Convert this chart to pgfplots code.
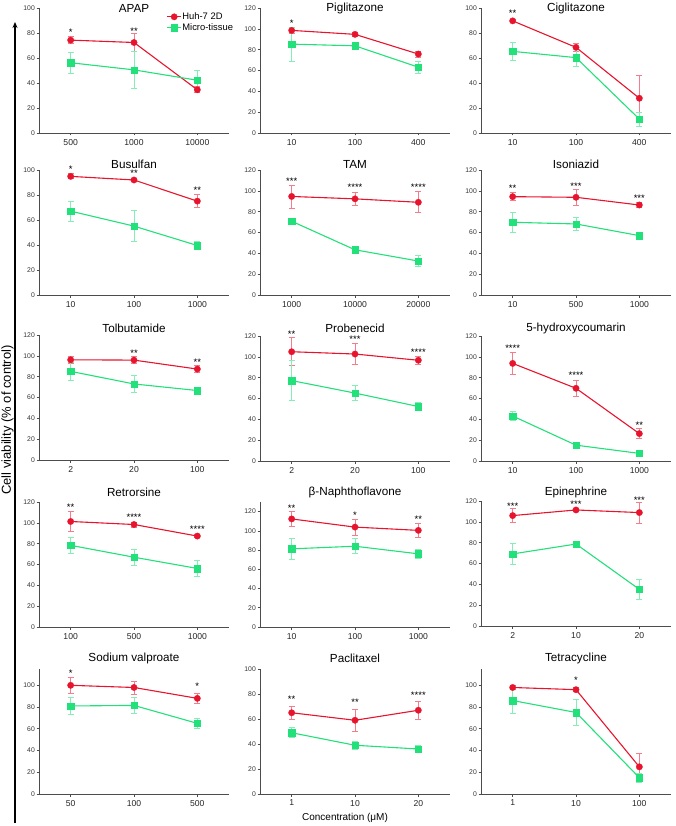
\documentclass[border=0pt]{standalone}
\usepackage{pgfplots}
\pgfplotsset{compat=1.18}
\usepackage{fontspec}
\setmainfont{Liberation Sans}
\usetikzlibrary{arrows.meta}
\definecolor{hured}{HTML}{E8142D}
\definecolor{mtgreen}{HTML}{22E07A}

\pgfplotsset{
  panel/.style={
    scale only axis, width=190pt, height=125pt,
    anchor=south west, clip=false,
    axis lines=left, axis line style={black!70, line width=0.6pt, -},
    xmin=-0.5, xmax=2.5, ymin=0, ymax=100,
    xtick={0,1,2}, ytick={0,20,...,120},
    tick align=outside, major tick length=2.5pt,
    tick style={black!70, line width=0.6pt},
    yticklabel style={font=\fontsize{6.8}{7}\selectfont, text=black!80, inner sep=1.5pt},
    xticklabel style={font=\fontsize{8.6}{9}\selectfont, text=black!85},
    every axis title/.style={at={(0.5,1)}, anchor=center, font=\fontsize{11.7}{13}\selectfont},
    /pgf/number format/assume math mode=true,
  },
  hu/.style={color=hured, line width=1.1pt, mark=*, mark size=3.2pt,
    mark options={solid, line width=0.3pt},
    error bars/.cd, y dir=both, y explicit,
    error bar style={hured!55!white, line width=0.8pt},
    error mark options={rotate=90, mark size=3pt, hured!55!white, line width=0.8pt}},
  mt/.style={color=mtgreen, line width=1.1pt, mark=square*, mark size=3.2pt,
    mark options={solid, line width=0.3pt},
    error bars/.cd, y dir=both, y explicit,
    error bar style={mtgreen!55!white, line width=0.8pt},
    error mark options={rotate=90, mark size=3pt, mtgreen!55!white, line width=0.8pt}},
  stars/.style={draw=none, mark=none, nodes near coords, point meta=explicit symbolic,
    nodes near coords style={font=\fontsize{9.5}{9.5}\selectfont, anchor=center, yshift=-1.7pt, black, inner sep=0pt}},
}

\begin{document}
\begin{tikzpicture}
\useasboundingbox (0pt,0pt) rectangle (676pt,-826pt);

% overall axis arrow and labels
\draw[line width=1.4pt, -{Stealth[length=6pt,width=5pt]}] (15pt,-823pt) -- (15pt,-22pt);
\node[rotate=90, font=\fontsize{13}{14}\selectfont] at (7.5pt,-420pt) {Cell viability (\% of control)};
\node[font=\fontsize{10}{11}\selectfont] at (345pt,-818pt) {Concentration (μM)};

% ---------- row 1 ----------
\begin{axis}[panel, at={(39pt,-133pt)}, title={APAP}, title style={yshift=0pt},
    xticklabels={500,1000,10000},
    legend style={at={(0.655,0.985)}, anchor=north west, draw=none, fill=none,
      font=\fontsize{9.4}{10}\selectfont, row sep=1.5pt, nodes={inner sep=0.6pt}},
    legend cell align=left,
    legend image code/.code={\draw[mark repeat=2, mark phase=2, #1] plot coordinates {(0pt,0pt) (7pt,0pt) (14pt,0pt)};}]
\addplot[hu] table[x=x,y=y,y error=e] {
x y e
0 74.3 3
1 72.4 7
2 34.6 2.5
};
\addplot[mt] table[x=x,y=y,y error=e] {
x y e
0 56.2 8.5
1 50.5 14.5
2 42.2 7.5
};
\legend{Huh-7 2D, Micro-tissue}
\addplot[stars] table[x=x,y=y,meta=s] {
x y s
0 81.9 *
1 82.4 **
};
\end{axis}

\begin{axis}[panel, at={(260pt,-133pt)}, ymax=120, title={Piglitazone}, title style={yshift=0pt},
    xticklabels={10,100,400}]
\addplot[hu] table[x=x,y=y,y error=e] {
x y e
0 98.5 3
1 94.7 1.5
2 75.8 3
};
\addplot[mt] table[x=x,y=y,y error=e] {
x y e
0 85.3 16.5
1 83.7 2
2 63.2 6
};
\addplot[stars] table[x=x,y=y,meta=s] {
x y s
0 107.4 *
};
\end{axis}

\begin{axis}[panel, at={(481pt,-133pt)}, title={Ciglitazone}, title style={yshift=0pt},
    xticklabels={10,100,400}]
\addplot[hu] table[x=x,y=y,y error=e] {
x y e
0 89.7 1.5
1 68.5 3
2 27.8 18
};
\addplot[mt] table[x=x,y=y,y error=e] {
x y e
0 65.3 7.5
1 60.3 7
2 11.1 5.5
};
\addplot[stars] table[x=x,y=y,meta=s] {
x y s
0 97.1 **
};
\end{axis}

% ---------- row 2 ----------
\begin{axis}[panel, at={(39pt,-295pt)}, title={Busulfan}, title style={yshift=6pt},
    xticklabels={10,100,1000}]
\addplot[hu] table[x=x,y=y,y error=e] {
x y e
0 94.9 2
1 92 1.5
2 75.1 5
};
\addplot[mt] table[x=x,y=y,y error=e] {
x y e
0 67.1 8
1 55.1 12.5
2 39.6 3.5
};
\addplot[stars] table[x=x,y=y,meta=s] {
x y s
0 101.9 *
1 98.4 **
2 85 **
};
\end{axis}

\begin{axis}[panel, at={(260pt,-295pt)}, ymax=120, title={TAM}, title style={yshift=6pt},
    xticklabels={1000,10000,20000}]
\addplot[hu] table[x=x,y=y,y error=e] {
x y e
0 94.6 11
1 92.3 6.5
2 89 10
};
\addplot[mt] table[x=x,y=y,y error=e] {
x y e
0 70.8 1.5
1 43.4 2.5
2 32.6 5.5
};
\addplot[stars] table[x=x,y=y,meta=s] {
x y s
0 111.2 ***
1 105.3 ****
2 105.3 ****
};
\end{axis}

\begin{axis}[panel, at={(481pt,-295pt)}, ymax=120, title={Isoniazid}, title style={yshift=6pt},
    xticklabels={10,500,1000}]
\addplot[hu] table[x=x,y=y,y error=e] {
x y e
0 94.4 4
1 93.8 7.5
2 86.4 2.5
};
\addplot[mt] table[x=x,y=y,y error=e] {
x y e
0 69.8 9.8
1 68.2 6.4
2 57 2.5
};
\addplot[stars] table[x=x,y=y,meta=s] {
x y s
0 104 **
1 105.6 ***
2 94.4 ***
};
\end{axis}

% ---------- row 3 ----------
\begin{axis}[panel, at={(39pt,-460pt)}, ymax=120, title={Tolbutamide}, title style={yshift=7pt},
    xticklabels={2,20,100}]
\addplot[hu] table[x=x,y=y,y error=e] {
x y e
0 96.2 3.5
1 95.9 3.5
2 87.3 3.5
};
\addplot[mt] table[x=x,y=y,y error=e] {
x y e
0 85.1 8.5
1 73 8.5
2 66.7 2.5
};
\addplot[stars] table[x=x,y=y,meta=s] {
x y s
1 104.1 **
2 95.9 **
};
\end{axis}

\begin{axis}[panel, at={(260pt,-461pt)}, ymax=120, title={Probenecid}, title style={yshift=8pt},
    xticklabels={2,20,100}]
\addplot[hu] table[x=x,y=y,y error=e] {
x y e
0 104.9 13.5
1 102.7 10
2 96.7 3.5
};
\addplot[mt] table[x=x,y=y,y error=e] {
x y e
0 77.2 19
1 65.2 7
2 52.3 4
};
\addplot[stars] table[x=x,y=y,meta=s] {
x y s
0 123.1 **
1 118.4 ***
2 106.5 ****
};
\end{axis}

\begin{axis}[panel, at={(481pt,-461pt)}, ymax=120, title={5-hydroxycoumarin}, title style={yshift=8pt},
    xticklabels={10,100,1000}]
\addplot[hu] table[x=x,y=y,y error=e] {
x y e
0 93.7 11
1 69.8 8
2 26.3 4.8
};
\addplot[mt] table[x=x,y=y,y error=e] {
x y e
0 43.2 4.5
1 15.2 2
2 7.3 2.5
};
\addplot[stars] table[x=x,y=y,meta=s] {
x y s
0 109.8 ****
1 83.5 ****
2 35.9 **
};
\end{axis}

% ---------- row 4 ----------
\begin{axis}[panel, at={(39pt,-627pt)}, ymax=120, title={Retrorsine}, title style={yshift=9.5pt},
    xticklabels={100,500,1000}]
\addplot[hu] table[x=x,y=y,y error=e] {
x y e
0 101.3 9.8
1 98.4 2.5
2 87.3 1.5
};
\addplot[mt] table[x=x,y=y,y error=e] {
x y e
0 78.4 7.3
1 67 7.5
2 56.2 7.3
};
\addplot[stars] table[x=x,y=y,meta=s] {
x y s
0 116.8 **
1 107.3 ****
2 95.2 ****
};
\end{axis}

\begin{axis}[panel, at={(260pt,-627pt)}, ymax=130, title={β-Naphthoflavone}, title style={yshift=9.5pt},
    xticklabels={10,100,1000}]
\addplot[hu] table[x=x,y=y,y error=e] {
x y e
0 112.4 7.7
1 103.9 8.5
2 100.5 7.5
};
\addplot[mt] table[x=x,y=y,y error=e] {
x y e
0 81.3 11.3
1 84 7.8
2 76.1 5
};
\addplot[stars] table[x=x,y=y,meta=s] {
x y s
0 125.1 **
1 117.6 *
2 113.8 **
};
\end{axis}

\begin{axis}[panel, at={(481pt,-626pt)}, ymax=120, title={Epinephrine}, title style={yshift=8.5pt},
    xticklabels={2,10,20}]
\addplot[hu] table[x=x,y=y,y error=e] {
x y e
0 106 7
1 111.4 1.5
2 108.9 10
};
\addplot[mt] table[x=x,y=y,y error=e] {
x y e
0 69.2 10
1 78.7 3
2 35.2 9.5
};
\addplot[stars] table[x=x,y=y,meta=s] {
x y s
0 116.8 ***
1 118.4 ***
2 122.5 ***
};
\end{axis}

% ---------- row 5 ----------
\begin{axis}[panel, at={(39pt,-794pt)}, ymax=115, ytick={0,20,...,100}, title={Sodium valproate}, title style={yshift=11pt},
    xticklabels={50,100,500}]
\addplot[hu] table[x=x,y=y,y error=e] {
x y e
0 100 7
1 98 6
2 88 5
};
\addplot[mt] table[x=x,y=y,y error=e] {
x y e
0 81 8
1 81.5 7
2 65 5
};
\addplot[stars] table[x=x,y=y,meta=s] {
x y s
0 113 *
2 101 *
};
\end{axis}

\begin{axis}[panel, at={(260pt,-794pt)}, title={Paclitaxel}, title style={yshift=11pt},
    xticklabels={1,10,20}]
\addplot[hu] table[x=x,y=y,y error=e] {
x y e
0 65 5
1 59 9
2 67 7
};
\addplot[mt] table[x=x,y=y,y error=e] {
x y e
0 49 4
1 39 3
2 36 3
};
\addplot[stars] table[x=x,y=y,meta=s] {
x y s
0 77 **
1 75 **
2 80 ****
};
\end{axis}

\begin{axis}[panel, at={(481pt,-794pt)}, ymax=115, ytick={0,20,...,100}, title={Tetracycline}, title style={yshift=11pt},
    xticklabels={1,10,100}]
\addplot[hu] table[x=x,y=y,y error=e] {
x y e
0 98 2
1 96 2
2 25 12
};
\addplot[mt] table[x=x,y=y,y error=e] {
x y e
0 86 12
1 75 12
2 15 4
};
\addplot[stars] table[x=x,y=y,meta=s] {
x y s
1 106 *
};
\end{axis}

\end{tikzpicture}
\end{document}
